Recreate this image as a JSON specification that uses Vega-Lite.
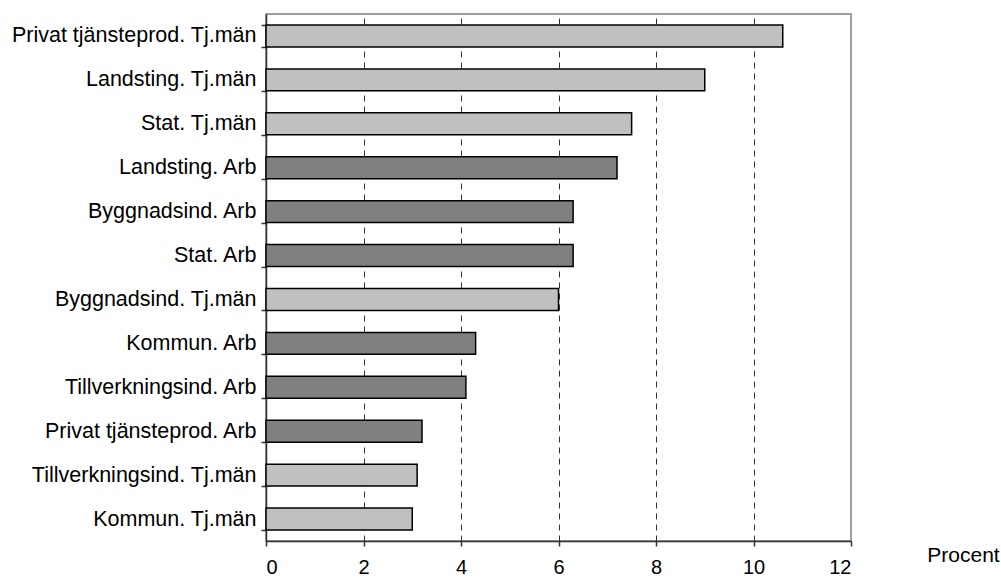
{
  "$schema": "https://vega.github.io/schema/vega-lite/v6.json",
  "width": 585,
  "height": 527,
  "autosize": {"type": "none"},
  "padding": {"left": 266, "top": 14, "right": 150, "bottom": 38},
  "background": "white",
  "config": {
    "font": "Liberation Sans",
    "view": {"stroke": "#808080", "strokeWidth": 1.5}
  },
  "data": {
    "values": [
      {"cat": "Privat tjänsteprod. Tj.män", "grp": "Tj.män", "v": 10.6},
      {"cat": "Landsting. Tj.män", "grp": "Tj.män", "v": 9.0},
      {"cat": "Stat. Tj.män", "grp": "Tj.män", "v": 7.5},
      {"cat": "Landsting. Arb", "grp": "Arb", "v": 7.2},
      {"cat": "Byggnadsind. Arb", "grp": "Arb", "v": 6.3},
      {"cat": "Stat. Arb", "grp": "Arb", "v": 6.3},
      {"cat": "Byggnadsind. Tj.män", "grp": "Tj.män", "v": 6.0},
      {"cat": "Kommun. Arb", "grp": "Arb", "v": 4.3},
      {"cat": "Tillverkningsind. Arb", "grp": "Arb", "v": 4.1},
      {"cat": "Privat tjänsteprod. Arb", "grp": "Arb", "v": 3.2},
      {"cat": "Tillverkningsind. Tj.män", "grp": "Tj.män", "v": 3.1},
      {"cat": "Kommun. Tj.män", "grp": "Tj.män", "v": 3.0}
    ]
  },
  "mark": {"type": "bar", "stroke": "black", "strokeWidth": 1.5},
  "encoding": {
    "y": {
      "field": "cat",
      "type": "nominal",
      "sort": null,
      "scale": {"paddingInner": 0.5, "paddingOuter": 0.25},
      "axis": {
        "title": null,
        "tickBand": "extent",
        "domainColor": "#333333",
        "domainWidth": 1.5,
        "tickColor": "#333333",
        "tickWidth": 1.5,
        "tickSize": 5,
        "labelFontSize": 21.5,
        "labelColor": "black",
        "labelPadding": 5,
        "labelLimit": 400
      }
    },
    "x": {
      "field": "v",
      "type": "quantitative",
      "scale": {"domain": [0, 12], "nice": false, "zero": true},
      "axis": {
        "values": [0, 2, 4, 6, 8, 10, 12],
        "grid": true,
        "gridDash": [6, 5],
        "gridColor": "#333333",
        "gridWidth": 1,
        "gridOpacity": {"condition": {"test": "datum.value == 0 || datum.value == 12", "value": 0}, "value": 1},
        "domainColor": "#333333",
        "domainWidth": 1.5,
        "tickColor": "#333333",
        "tickWidth": 1.5,
        "tickSize": 5,
        "labelFontSize": 20,
        "labelColor": "black",
        "labelPadding": 11,
        "title": "Procent",
        "titleFontSize": 21,
        "titleFontWeight": "normal",
        "titleColor": "black",
        "titleX": 697,
        "titleY": 14,
        "titleAlign": "center",
        "titleBaseline": "middle"
      }
    },
    "fill": {
      "field": "grp",
      "type": "nominal",
      "scale": {"domain": ["Tj.män", "Arb"], "range": ["#C0C0C0", "#808080"]},
      "legend": null
    }
  }
}
